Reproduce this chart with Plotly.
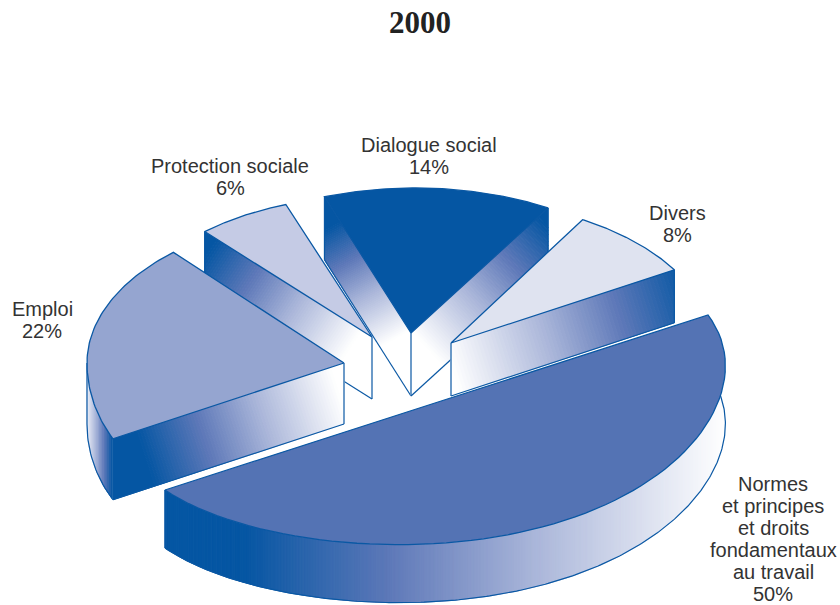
import math
import plotly.graph_objects as go

TITLE = "2000"
categories = ["Dialogue social", "Divers", "Normes<br>et principes<br>et droits<br>fondamentaux<br>au travail", "Emploi", "Protection sociale"]
shares = [14, 8, 50, 22, 6]

START = 340.0
DARK, BLUE, PALE = "#0556a3", "#5d78b8", "#a9b5d9"
LINE = "#0a58a4"
TOPS = ["#0556a3", "#dfe3f0", "#5473b4", "#95a5d0", "#c5cbe5"]
# per-slice layout: apex position, ellipse axis vectors, wall height
GEOM = [
    dict(c=(411, 333), A=(264, 0), B=(4, -145), h=63),
    dict(c=(451, 343), A=(260, 0), B=(0, -143), h=53),
    dict(c=(436.5, 402.5), U=(271.5, -87.5), V=(128, 118), e=0.115, h=58),
    dict(c=(344, 363), A=(257, 0), B=(0, -148), q=0.7, h=61),
    dict(c=(372, 337), A=(252, 0), B=(0, -141), h=62),
]
# x and y of the first text line of each label
LABELS = [(429, 145), (677, 213), (773, 484), (42, 309), (230, 166)]
LINE_STEP = 22
BANDS = 70


def lerp(a, b, t):
    return int(round(a + (b - a) * t))


def ramp(t):
    """t=0 dark, t=1 white"""
    t = max(0.0, min(1.0, t))
    stops = [(0, DARK), (0.3, BLUE), (0.6, PALE), (1, "#ffffff")]
    for (t0, c0), (t1, c1) in zip(stops, stops[1:]):
        if t <= t1:
            f = (t - t0) / (t1 - t0)
            rgb = [lerp(int(c0[i:i + 2], 16), int(c1[i:i + 2], 16), f) for i in (1, 3, 5)]
            return "rgb(%d,%d,%d)" % tuple(rgb)
    return "#ffffff"


angles = []
cur = START
for v in shares:
    angles.append((cur % 360, cur % 360 + v * 3.6))
    cur += v * 3.6


def rim(i, deg):
    g = GEOM[i]
    if "U" in g:
        r = math.radians(deg - angles[i][0])
        c, s = math.cos(r), math.sin(r)
        c = c * (1 - g["e"] * abs(s))
        return (g["c"][0] + g["U"][0] * c + g["V"][0] * s, g["c"][1] + g["U"][1] * c + g["V"][1] * s)
    r = math.radians(deg)
    s, c = math.sin(r), math.cos(r)
    if "q" in g and c < 0:
        s = math.copysign(abs(s) ** g["q"], s)
    return (g["c"][0] + g["A"][0] * s + g["B"][0] * c, g["c"][1] + g["A"][1] * s + g["B"][1] * c)


fig = go.Figure()


def poly(pts, fill, close=True, width=1.0, color=None):
    xs = [p[0] for p in pts] + ([pts[0][0]] if close else [])
    ys = [p[1] for p in pts] + ([pts[0][1]] if close else [])
    fig.add_trace(go.Scatter(x=xs, y=ys, mode="lines", fill="toself" if fill else None,
                             fillcolor=fill, line=dict(color=color or fill, width=width),
                             hoverinfo="skip", showlegend=False))


def arc_wall(path, h, x_dark, x_white):
    for p, q in zip(path, path[1:]):
        t = ((p[0] + q[0]) / 2 - x_dark) / (x_white - x_dark)
        poly([p, q, (q[0], q[1] + h), (p[0], p[1] + h)], ramp(t))
    poly([(p[0], p[1] + h) for p in path], None, close=False, width=1.2, color=LINE)


def clip(pts, f):
    """keep the part of polygon pts where f(point) >= 0"""
    out = []
    for a, b in zip(pts, pts[1:] + pts[:1]):
        fa, fb = f(a), f(b)
        if fa >= 0:
            out.append(a)
        if (fa >= 0) != (fb >= 0):
            k = fa / (fa - fb)
            out.append((a[0] + (b[0] - a[0]) * k, a[1] + (b[1] - a[1]) * k))
    return out


def flat_wall(a, b, h, p0, p1):
    """straight wall a-b of height h, linear gradient from p0 (dark) to p1 (white)"""
    dx, dy = p1[0] - p0[0], p1[1] - p0[1]
    dd = dx * dx + dy * dy
    tf = lambda P: ((P[0] - p0[0]) * dx + (P[1] - p0[1]) * dy) / dd
    shape = [a, b, (b[0], b[1] + h), (a[0], a[1] + h)]
    poly(shape, "#ffffff")
    for k in range(-1, BANDS + 1):
        lo = k / BANDS if k >= 0 else -9.0
        hi = (k + 1) / BANDS if k < BANDS else 9.0
        part = clip(clip(shape, lambda P: tf(P) - lo), lambda P: hi - tf(P))
        if len(part) >= 3:
            poly(part, ramp((k + 0.5) / BANDS))
    poly([(a[0], a[1] + h), (b[0], b[1] + h)], None, close=False, width=1.2, color=LINE)


def vline(p, h):
    poly([p, (p[0], p[1] + h)], None, close=False, width=1.2, color=LINE)


def arc(i, a0=None, a1=None, n=70):
    s, e = angles[i]
    s = s if a0 is None else a0
    e = e if a1 is None else a1
    return [rim(i, s + (e - s) * k / n) for k in range(n + 1)]


def top(i):
    poly([GEOM[i]["c"]] + arc(i), TOPS[i], width=1.3, color=LINE)


# paint order: back to front
# Dialogue social
i = 0
g = GEOM[i]
flat_wall(rim(i, angles[i][0]), g["c"], g["h"], (330, 228), (393, 340))
flat_wall(rim(i, angles[i][1]), g["c"], g["h"], (546, 225), (420, 340))
vline(g["c"], g["h"])
vline(rim(i, angles[i][0]), g["h"])
vline(rim(i, angles[i][1]), g["h"])
top(i)

# Divers
i = 1
g = GEOM[i]
flat_wall(rim(i, angles[i][1]), g["c"], g["h"], (690, 290), (451, 365))
vline(g["c"], g["h"])
vline(rim(i, angles[i][1]), g["h"])
top(i)

# Protection sociale
i = 4
g = GEOM[i]
flat_wall(rim(i, angles[i][0]), g["c"], g["h"], (210, 250), (352, 345))
vline(g["c"], g["h"])
vline(rim(i, angles[i][0]), g["h"])
top(i)

# Emploi
i = 3
g = GEOM[i]
arc_wall(arc(i, a1=270, n=24), g["h"], 112, 84)
flat_wall(rim(i, angles[i][0]), g["c"], g["h"], (146, 458), (340, 395))
vline(g["c"], g["h"])
vline(rim(i, angles[i][0]), g["h"])
vline(rim(i, 270), g["h"])
top(i)

# Normes
i = 2
g = GEOM[i]
arc_wall(arc(i, n=280), g["h"], 244, 725)
vline(rim(i, angles[i][1]), g["h"])
top(i)

annotations = [dict(x=420, y=22, text=f"<b>{TITLE}</b>", showarrow=False,
                    font=dict(family="Liberation Serif", size=31, color="#222222"))]
for name, v, (x, y) in zip(categories, shares, LABELS):
    for k, line in enumerate(name.split("<br>") + [f"{v}%"]):
        annotations.append(dict(x=x, y=y + k * LINE_STEP, text=line, showarrow=False, align="center",
                                font=dict(family="Liberation Sans", size=20, color="#333333")))

fig.update_layout(
    width=840, height=605, margin=dict(l=0, r=0, t=0, b=0),
    paper_bgcolor="white", plot_bgcolor="white", showlegend=False,
    xaxis=dict(range=[0, 840], visible=False, fixedrange=True),
    yaxis=dict(range=[605, 0], visible=False, fixedrange=True),
    annotations=annotations,
)
fig.write_html("out.html", config={"displayModeBar": False},
               post_script="document.body.style.margin='0';document.documentElement.style.overflow='hidden';")
